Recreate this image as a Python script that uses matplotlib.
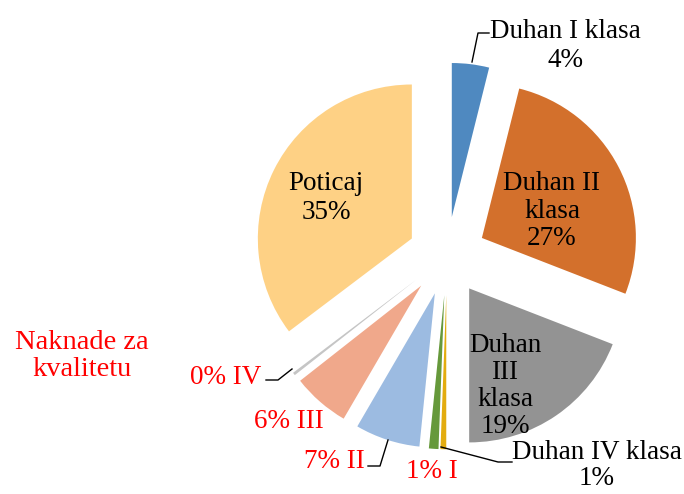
import matplotlib.pyplot as plt

plt.rcParams['font.family'] = ['Liberation Serif', 'DejaVu Serif']

# udjeli u ukupnom prihodu (%)
names = ["Duhan I klasa", "Duhan II klasa", "Duhan III klasa", "Duhan IV klasa",
         "I", "II", "III", "IV", "Poticaj"]
values = [3.9, 27.0, 19.1, 0.6, 1.0, 6.8, 6.0, 0.3, 35.3]
colors = ["#4F89C0", "#D3702C", "#939393", "#E3AC0F",
          "#66993B", "#9CBBE1", "#F0A88B", "#C5C5C5", "#FED185"]

W, H = 684, 494
cx, cy, R = 447, 256, 154

def px(x, y):
    # piksel -> koordinate osi
    return (x - cx) / R, (cy - y) / R

fig = plt.figure(figsize=(W / 100, H / 100), dpi=100)
ax = fig.add_axes([0, 0, 1, 1])

total = sum(values)
pcts = [round(v / total * 100) for v in values]

ax.pie(values, colors=colors, startangle=90, counterclock=False,
       explode=[0.255] * len(values), radius=1, center=(0, 0),
       wedgeprops=dict(linewidth=0), frame=True)
ax.set_aspect('equal')
ax.set_xlim(-cx / R, (W - cx) / R)
ax.set_ylim(-(H - cy) / R, cy / R)
ax.axis('off')

fs = 19.5
ls = 1.2
black = "black"
red = "#FF0000"

# unutarnje oznake
ax.text(*px(552, 211), "Duhan II\nklasa\n%d%%" % pcts[1], ha='center', va='center',
        fontsize=fs, color=black, linespacing=1.15)
ax.text(*px(505, 386), "Duhan\nIII\nklasa\n%d%%" % pcts[2], ha='center', va='center',
        fontsize=fs, color=black, linespacing=1.1)
ax.text(*px(326, 198), "Poticaj\n%d%%" % pcts[8], ha='center', va='center',
        fontsize=fs, color=black, linespacing=ls)

# vanjske oznake
ax.text(*px(565, 46), "Duhan I klasa\n%d%%" % pcts[0], ha='center', va='center',
        fontsize=fs, color=black, linespacing=ls)
ax.plot(*zip(px(472, 62), px(478, 33), px(489, 33)), color=black, lw=1)

ax.text(*px(597, 491), "Duhan IV klasa\n%d%%" % pcts[3], ha='center', va='bottom',
        fontsize=fs, color=black, linespacing=1.05)
ax.plot(*zip(px(441, 447), px(498, 462), px(512, 462)), color=black, lw=1)

ax.text(*px(432, 471), "%d%% I" % pcts[4], ha='center', va='center',
        fontsize=fs, color=red)
ax.text(*px(334, 461), "%d%% II" % pcts[5], ha='center', va='center',
        fontsize=fs, color=red)
ax.plot(*zip(px(368, 466), px(380, 466), px(388, 440)), color=black, lw=1)
ax.text(*px(289, 422), "%d%% III" % pcts[6], ha='center', va='center',
        fontsize=fs, color=red)
ax.text(*px(226, 377), "%d%% IV" % pcts[7], ha='center', va='center',
        fontsize=fs, color=red)
ax.plot(*zip(px(266, 380), px(278, 380), px(292, 369)), color=black, lw=1)

ax.text(*px(82, 356), "Naknade za\nkvalitetu", ha='center', va='center',
        fontsize=20.5, color=red, linespacing=1.15)

fig.savefig("out.png", dpi=100)
